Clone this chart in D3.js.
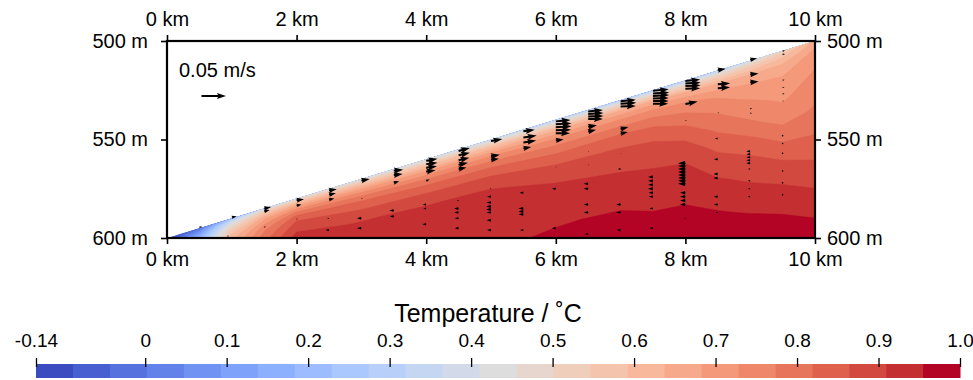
<!DOCTYPE html>
<html>
<head>
<meta charset="utf-8">
<script src="https://cdn.jsdelivr.net/npm/d3@7"></script>
<style>
  body { margin: 0; background: #fff; }
  svg text { font-family: "Liberation Sans", Arial, Helvetica, sans-serif; fill: #000; }
</style>
</head>
<body>
<svg id="chart" width="973" height="380"></svg>
<script>
// ---------------------------------------------------------------------------
// Axis ticks
const distanceTicks = [0, 2, 4, 6, 8, 10];          // km
const depthTicks = [500, 550, 600];                 // m

// Ice base: straight slope from the grounding line to the open end
const baseX = [0, 10];                              // km
const baseDepth = [600, 500];                       // m
const seabedDepth = 600;                            // m

// Temperature grid: terrain-following columns (top = ice base, bottom = seabed)
const gridX = [0, 0.5, 1, 1.5, 2, 3, 4, 5, 6, 7, 7.5, 8, 8.5, 9, 9.5, 10];
const gridSigma = [0, 0.03, 0.08, 0.15, 0.25, 0.35, 0.45, 0.55, 0.65, 0.75, 0.85, 1.0];

// one column per gridX entry, values from ice base down to the seabed (°C)
const tempAt0km   = [-0.134, -0.134, -0.134, -0.134, -0.134, -0.134, -0.134, -0.134, -0.134, -0.134, -0.134, -0.134];
const tempAt0_5km = [-0.02, -0.01, 0.00, 0.02, 0.04, 0.06, 0.08, 0.10, 0.12, 0.14, 0.16, 0.18];
const tempAt1km   = [0.20, 0.24, 0.30, 0.36, 0.42, 0.46, 0.50, 0.53, 0.56, 0.58, 0.60, 0.62];
const tempAt1_5km = [0.36, 0.43, 0.50, 0.56, 0.62, 0.67, 0.70, 0.73, 0.75, 0.77, 0.78, 0.80];
const tempAt2km   = [0.42, 0.48, 0.56, 0.64, 0.72, 0.78, 0.83, 0.86, 0.88, 0.895, 0.91, 0.93];
const tempAt3km   = [0.42, 0.48, 0.57, 0.66, 0.75, 0.81, 0.845, 0.872, 0.903, 0.912, 0.92, 0.928];
const tempAt4km   = [0.40, 0.47, 0.58, 0.68, 0.77, 0.83, 0.87, 0.903, 0.918, 0.928, 0.935, 0.942];
const tempAt5km   = [0.36, 0.47, 0.60, 0.71, 0.80, 0.855, 0.898, 0.92, 0.932, 0.938, 0.943, 0.947];
const tempAt6km   = [0.32, 0.46, 0.62, 0.72, 0.80, 0.85, 0.895, 0.912, 0.932, 0.946, 0.951, 0.960];
const tempAt7km   = [0.30, 0.48, 0.65, 0.74, 0.82, 0.865, 0.893, 0.915, 0.935, 0.949, 0.960, 0.975];
const tempAt7_5km = [0.30, 0.49, 0.66, 0.75, 0.82, 0.865, 0.895, 0.913, 0.935, 0.947, 0.958, 0.978];
const tempAt8km   = [0.30, 0.49, 0.65, 0.74, 0.80, 0.85, 0.89, 0.915, 0.935, 0.948, 0.965, 0.985];
const tempAt8_5km = [0.33, 0.50, 0.64, 0.72, 0.77, 0.81, 0.85, 0.885, 0.912, 0.94, 0.957, 0.985];
const tempAt9km   = [0.40, 0.53, 0.64, 0.70, 0.74, 0.78, 0.83, 0.87, 0.90, 0.925, 0.952, 0.985];
const tempAt9_5km = [0.50, 0.58, 0.65, 0.69, 0.72, 0.75, 0.80, 0.85, 0.89, 0.92, 0.95, 0.98];
const tempAt10km  = [0.66, 0.68, 0.71, 0.73, 0.755, 0.78, 0.81, 0.845, 0.88, 0.91, 0.945, 0.975];
const tempColumns = [tempAt0km, tempAt0_5km, tempAt1km, tempAt1_5km, tempAt2km, tempAt3km,
  tempAt4km, tempAt5km, tempAt6km, tempAt7km, tempAt7_5km, tempAt8km, tempAt8_5km,
  tempAt9km, tempAt9_5km, tempAt10km];

// Colour scale
const tempMin = -0.134, tempMax = 1.0, levelCount = 25;
const colorbarTicks  = [-0.134, 0, 0.1, 0.2, 0.3, 0.4, 0.5, 0.6, 0.7, 0.8, 0.9, 1.0];
const colorbarLabels = ["-0.14", "0", "0.1", "0.2", "0.3", "0.4", "0.5", "0.6", "0.7", "0.8", "0.9", "1.0"];

// Currents: [distance km, depth m, u m/s (positive seaward), w m/s (positive up)]
const currents = [
  [0.5, 594.5, 0.006, 0.001],
  [1.0, 589.5, 0.010, 0.002], [0.95, 599, -0.004, 0],
  [1.5, 585, 0.014, 0.003], [1.5, 586.5, 0.011, 0.003], [1.5, 594.5, 0.004, 0.001],
  [2.0, 580.8, 0.015, 0.002], [2.0, 583.5, 0.010, 0.002], [2.0, 590.5, 0.003, 0.001],
  [2.5, 575.8, 0.016, 0.002], [2.5, 578, 0.014, 0.003], [2.5, 580.5, 0.011, 0.002], [2.5, 590, -0.004, 0], [2.5, 596, -0.007, 0],
  [3.0, 570.8, 0.017, 0.003], [3.0, 580, 0.003, 0], [3.0, 590, -0.009, 0], [3.0, 595, -0.009, 0],
  [3.5, 565.8, 0.019, 0.002], [3.5, 568, 0.018, 0.002], [3.5, 572, 0.011, 0.003], [3.5, 586, -0.009, 0], [3.5, 589, -0.008, 0],
  [4.0, 560.8, 0.023, 0.004], [4.0, 562.5, 0.023, 0.003], [4.0, 564.3, 0.022, 0.003], [4.0, 566.3, 0.019, 0.003],
  [4.0, 571, 0.007, 0.003], [4.0, 583, -0.007, 0], [4.0, 585, -0.006, 0], [4.0, 593, -0.008, 0],
  [4.5, 555.8, 0.023, 0.006], [4.5, 558, 0.023, 0.005], [4.5, 560.5, 0.022, 0.005], [4.5, 562.8, 0.019, 0.004],
  [4.5, 565, 0.016, 0.003], [4.5, 581, -0.004, 0], [4.5, 585, -0.009, 0], [4.5, 587, -0.009, 0], [4.5, 590, -0.008, 0], [4.5, 595, -0.008, 0],
  [5.0, 550.8, 0.023, 0.004], [5.0, 558.5, 0.018, 0.003], [5.0, 560.3, 0.016, 0.002], [5.0, 575, -0.003, 0],
  [5.0, 579, -0.008, 0], [5.0, 582, -0.009, 0], [5.0, 584, -0.010, 0], [5.0, 585.5, -0.010, 0], [5.0, 587, -0.009, 0],
  [5.0, 591, -0.009, 0], [5.0, 596, -0.008, 0],
  [5.5, 545.8, 0.023, 0.003], [5.5, 549, 0.027, 0.004], [5.5, 551.5, 0.026, 0.004], [5.5, 554.5, 0.016, 0.003],
  [5.5, 577, -0.008, 0], [5.5, 585, -0.010, 0], [5.5, 586.5, -0.010, 0], [5.5, 588, -0.010, 0], [5.5, 596, -0.007, 0],
  [6.0, 540.8, 0.030, 0.003], [6.0, 542.3, 0.032, 0.002], [6.0, 543.8, 0.032, 0.002], [6.0, 545.3, 0.031, 0.001],
  [6.0, 546.8, 0.029, 0], [6.0, 550.5, 0.016, 0.002], [6.0, 564, 0.002, 0], [6.0, 575, -0.008, 0], [6.0, 595, -0.008, 0],
  [6.5, 535.8, 0.030, 0.003], [6.5, 537, 0.031, 0.002], [6.5, 538.3, 0.031, 0.001], [6.5, 539.6, 0.030, 0],
  [6.5, 543.5, 0.018, 0.003], [6.5, 546, 0.016, 0.004], [6.5, 556, 0.002, 0], [6.5, 563, 0.002, 0.001],
  [6.5, 572.5, -0.009, 0], [6.5, 575, -0.009, 0], [6.5, 583, -0.009, 0], [6.5, 587, -0.009, 0], [6.5, 598, -0.007, 0],
  [7.0, 530.6, 0.031, 0.003], [7.0, 531.8, 0.032, 0.002], [7.0, 533.2, 0.031, 0.001], [7.0, 544.7, 0.016, 0.004],
  [7.0, 547, 0.015, 0.003], [7.0, 557, 0.002, 0], [7.0, 565, -0.006, 0], [7.0, 583, -0.009, 0], [7.0, 587, -0.009, 0], [7.0, 596, -0.008, 0],
  [7.5, 525.3, 0.032, 0.003], [7.5, 526.6, 0.033, 0.002], [7.5, 527.9, 0.033, 0.002], [7.5, 529.2, 0.032, 0.001],
  [7.5, 530.5, 0.032, 0], [7.5, 531.8, 0.031, 0], [7.5, 569, -0.010, 0], [7.5, 571, -0.010, 0], [7.5, 573, -0.010, 0],
  [7.5, 575, -0.010, 0], [7.5, 577, -0.009, 0], [7.5, 579, -0.009, 0], [7.5, 585, -0.007, 0], [7.5, 595, -0.007, 0],
  [8.0, 520.3, 0.030, 0.003], [8.0, 521.6, 0.031, 0.002], [8.0, 522.9, 0.031, 0.002], [8.0, 524.2, 0.030, 0.001],
  [8.0, 532, 0.025, 0.005], [8.0, 540.5, 0.003, 0.001],
  [8.0, 562, -0.015, 0], [8.0, 563.5, -0.015, 0], [8.0, 565, -0.015, 0], [8.0, 566.5, -0.015, 0], [8.0, 568, -0.015, 0],
  [8.0, 569.5, -0.015, 0], [8.0, 571, -0.015, 0], [8.0, 572.5, -0.015, 0],
  [8.0, 577, -0.011, 0], [8.0, 579, -0.011, 0], [8.0, 581, -0.011, 0], [8.0, 583, -0.011, 0], [8.0, 590, -0.003, 0], [8.0, 597, -0.002, 0],
  [8.5, 514.8, 0.016, 0.003], [8.5, 522, 0.025, 0.002], [8.5, 524, 0.025, 0.002], [8.5, 536.5, 0.003, 0.001],
  [8.5, 549.5, -0.006, 0], [8.5, 560, -0.008, 0], [8.5, 567.5, -0.009, 0], [8.5, 569.5, -0.009, 0], [8.5, 579, -0.008, 0],
  [8.5, 583, -0.008, 0], [8.5, 587, -0.005, 0],
  [9.0, 509.5, 0.014, 0.003], [9.0, 517, 0.017, 0.002], [9.0, 521, 0.017, 0.002], [9.0, 534.5, 0.004, 0.002], [9.0, 536.5, 0.004, -0.001],
  [9.0, 556, -0.008, 0], [9.0, 557.5, -0.008, 0], [9.0, 559, -0.008, 0], [9.0, 560.5, -0.008, 0], [9.0, 562, -0.008, 0],
  [9.0, 565, -0.005, 0], [9.0, 571, -0.005, 0], [9.0, 575, -0.005, 0], [9.0, 579, -0.005, 0],
  [9.5, 505.2, 0.005, 0.002], [9.5, 506.8, 0.005, 0.001], [9.5, 520, 0.004, 0.002], [9.5, 523.5, 0.004, -0.001],
  [9.5, 527, 0.004, 0.002], [9.5, 530.5, 0.003, 0], [9.5, 548, 0.001, 0.001], [9.5, 552, 0.001, 0], [9.5, 557, 0.001, 0.001],
  [9.5, 566, 0.001, 0], [9.5, 572, 0.001, 0], [9.5, 578, 0.001, 0]
];
const referenceSpeed = 0.05;   // m/s, key arrow

// ---------------------------------------------------------------------------
// Moreland "cool to warm" diverging colour map
const coolwarmStops = [
  [59,76,192],[68,90,204],[77,104,215],[87,117,225],[98,130,234],[108,142,241],[119,154,247],
  [130,165,251],[141,176,254],[152,185,255],[163,194,255],[174,201,253],[184,208,249],
  [194,213,244],[204,217,238],[213,219,230],[221,221,221],[229,216,209],[236,211,197],
  [241,204,184],[245,196,172],[247,187,160],[247,177,148],[247,166,135],[244,154,123],
  [241,141,111],[236,127,99],[229,112,88],[222,96,77],[213,80,66],[203,62,56],[192,40,47],[180,4,38]
];
function coolwarm(t) {
  const n = coolwarmStops.length - 1;
  const p = Math.max(0, Math.min(1, t)) * n;
  const i = Math.min(n - 1, Math.floor(p));
  const f = p - i;
  const a = coolwarmStops[i], b = coolwarmStops[i + 1];
  return d3.rgb(a[0] + (b[0] - a[0]) * f, a[1] + (b[1] - a[1]) * f, a[2] + (b[2] - a[2]) * f).formatHex();
}
const levels = d3.range(levelCount).map(k => tempMin + k * (tempMax - tempMin) / levelCount);
const levelColor = k => coolwarm(k / (levelCount - 1));

// ---------------------------------------------------------------------------
const svg = d3.select("#chart");
const x = d3.scaleLinear().domain([0, 10]).range([167, 815]);
const y = d3.scaleLinear().domain([500, 600]).range([41, 238]);
const base = d3.scaleLinear().domain(baseX).range(baseDepth);

// clip to the water column between ice base and seabed
svg.append("defs").append("clipPath").attr("id", "cavity")
  .append("path")
  .attr("d", d3.line()([
    [x(baseX[0]), y(baseDepth[0])], [x(baseX[1]), y(baseDepth[1])], [x(baseX[1]), y(seabedDepth)]
  ]) + "Z");

// filled temperature contours
const nx = gridX.length, ny = gridSigma.length;
const values = new Array(nx * ny);
for (let j = 0; j < ny; j++) for (let i = 0; i < nx; i++) values[j * nx + i] = tempColumns[i][j];

const idxToX = d3.scaleLinear().domain(d3.range(nx)).range(gridX);
const idxToSigma = d3.scaleLinear().domain(d3.range(ny)).range(gridSigma);
const toScreen = d3.geoTransform({
  point(gx, gy) {
    const fi = Math.max(0, Math.min(nx - 1, gx - 0.5));
    const fj = Math.max(0, Math.min(ny - 1, gy - 0.5));
    const xk = idxToX(fi);
    const s = idxToSigma(fj);
    const top = base(xk);
    this.stream.point(x(xk), y(top + s * (seabedDepth - top)));
  }
});
const bands = d3.contours().size([nx, ny]).thresholds(levels)(values);
svg.append("g").attr("clip-path", "url(#cavity)")
  .selectAll("path").data(bands).join("path")
  .attr("d", d3.geoPath(toScreen))
  .attr("fill", (d, k) => levelColor(k))
  .attr("stroke", (d, k) => levelColor(k))
  .attr("stroke-width", 0.4);

// quiver arrows (tail anchored)
const speed = d3.scaleLinear().domain([0, referenceSpeed]).range([0, 24.5]);
const shaftW = 2.0, headW = 3 * shaftW, headL = 4.5 * shaftW, headAxisL = 4 * shaftW;
function arrowPath(len) {
  if (len < 0.8) return "M0,-0.8A0.8,0.8 0 1,1 0,0.8A0.8,0.8 0 1,1 0,-0.8Z";
  const k = len < headL ? len / headL : 1;
  const L = len / k;
  const pts = [
    [0, shaftW / 2], [L - headAxisL, shaftW / 2], [L - headL, headW / 2], [L, 0],
    [L - headL, -headW / 2], [L - headAxisL, -shaftW / 2], [0, -shaftW / 2]
  ].map(p => [p[0] * k, p[1] * k]);
  return d3.line()(pts) + "Z";
}
function drawArrow(g, px, py, u, w) {
  const len = speed(Math.hypot(u, w));
  const ang = Math.atan2(-w, u) * 180 / Math.PI;
  g.append("path")
    .attr("d", arrowPath(len))
    .attr("transform", `translate(${px},${py}) rotate(${ang})`)
    .attr("fill", "#000");
}
const quiver = svg.append("g");
currents.forEach(([xk, dep, u, w]) => drawArrow(quiver, x(xk), y(dep), u, w));

// key arrow
drawArrow(svg, 201.5, 96, referenceSpeed, 0);
svg.append("text").attr("x", 179).attr("y", 77).attr("font-size", 20).text("0.05 m/s");

// frame and axes
const fmtKm = d => d + " km", fmtM = d => d + " m";
function styleAxis(g) {
  g.select(".domain").remove();
  g.selectAll(".tick line").attr("stroke", "#000").attr("stroke-width", 1.6);
  g.selectAll(".tick text").attr("font-size", 20).attr("font-family", null);
}
svg.append("g").attr("transform", `translate(0,${y(500)})`)
  .call(d3.axisTop(x).tickValues(distanceTicks).tickFormat(fmtKm).tickSize(6).tickPadding(9)).call(styleAxis);
svg.append("g").attr("transform", `translate(0,${y(600)})`)
  .call(d3.axisBottom(x).tickValues(distanceTicks).tickFormat(fmtKm).tickSize(6).tickPadding(8)).call(styleAxis);
svg.append("g").attr("transform", `translate(${x(0)},0)`)
  .call(d3.axisLeft(y).tickValues(depthTicks).tickFormat(fmtM).tickSize(6).tickPadding(13)).call(styleAxis);
svg.append("g").attr("transform", `translate(${x(10)},0)`)
  .call(d3.axisRight(y).tickValues(depthTicks).tickFormat(fmtM).tickSize(6).tickPadding(6)).call(styleAxis);
svg.append("rect")
  .attr("x", x(0)).attr("y", y(500)).attr("width", x(10) - x(0)).attr("height", y(600) - y(500))
  .attr("fill", "none").attr("stroke", "#000").attr("stroke-width", 2.2);

// colour bar
const cb = d3.scaleLinear().domain([tempMin, tempMax]).range([36, 960]);
const cbTop = 364, cbH = 14;
const levelStep = (tempMax - tempMin) / levelCount;
svg.append("g").selectAll("rect").data(levels).join("rect")
  .attr("x", d => cb(d)).attr("y", cbTop)
  .attr("width", d => cb(d + levelStep) - cb(d) + 0.5)
  .attr("height", cbH)
  .attr("fill", (d, k) => levelColor(k));
const cbAxis = svg.append("g").attr("transform", `translate(0,${cbTop + 3})`)
  .call(d3.axisTop(cb).tickValues(colorbarTicks).tickFormat((d, i) => colorbarLabels[i]).tickSize(9).tickPadding(11));
cbAxis.select(".domain").remove();
cbAxis.selectAll(".tick line").attr("stroke", "#000").attr("stroke-width", 1.3);
cbAxis.selectAll(".tick text").attr("font-size", 19).attr("font-family", null);
svg.append("text").attr("x", 488).attr("y", 322).attr("text-anchor", "middle")
  .attr("font-size", 25).text("Temperature / ˚C");
</script>
</body>
</html>
